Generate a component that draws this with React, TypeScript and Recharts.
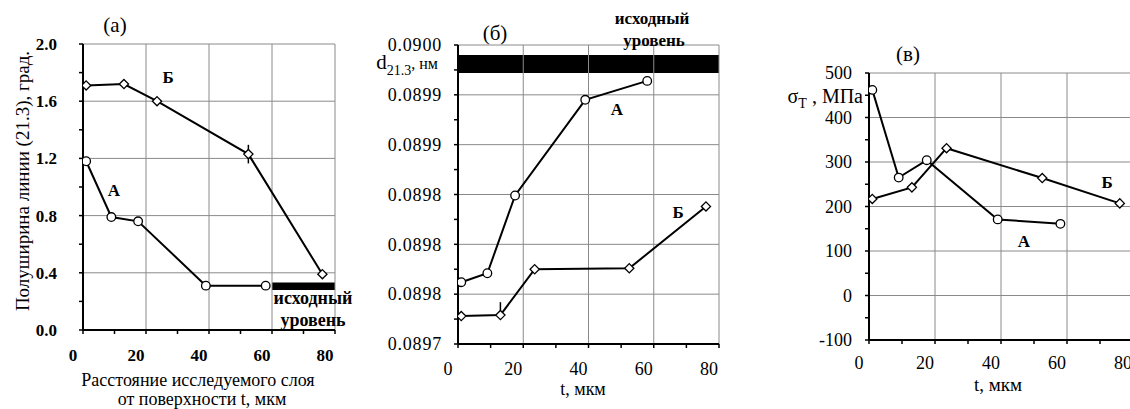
import React from "react";
import {
  LineChart, Line, XAxis, YAxis, ReferenceLine, ReferenceArea, ErrorBar,
} from "recharts";

// depth t, мкм (same specimens in all three panels)
const T_A = [1, 9, 17.5, 39, 58];
const T_B = [1, 13, 23.5, 52.5, 76];

// (а) line half-width (21.3), deg
const WIDTH_A = [1.18, 0.79, 0.76, 0.31, 0.31];
const WIDTH_B = [1.71, 1.72, 1.6, 1.23, 0.39];
const WIDTH_B_ERR = [0, 0, 0, 0.065, 0];

// (б) d21.3, nm
const D_A = [0.089762, 0.089771, 0.089849, 0.089945, 0.089964];
const D_B = [0.089728, 0.089729, 0.089775, 0.089776, 0.089838];
const D_B_ERR = [[0, 0], [0, 0.000013], [0, 0], [0, 0], [0, 0]];

// (в) sigma_T, MPa
const SIGMA_A = [462, 265, 304, 171, 161];
const SIGMA_B = [217, 243, 331, 264, 207];

const X_TICKS = [0, 10, 20, 30, 40, 50, 60, 70, 80];
const X_MAJOR = [0, 20, 40, 60, 80];

const Y_TICKS_A = [0, 0.2, 0.4, 0.6, 0.8, 1.0, 1.2, 1.4, 1.6, 1.8, 2.0];
const Y_MAJOR_A = [0, 0.4, 0.8, 1.2, 1.6, 2.0];
const Y_LABELS_A = ["0.0", "0.4", "0.8", "1.2", "1.6", "2.0"];

const Y_TICKS_B = [0.0897, 0.089725, 0.08975, 0.089775, 0.0898, 0.089825, 0.08985, 0.089875, 0.0899, 0.089925, 0.08995, 0.089975, 0.09];
const Y_MAJOR_B = [0.0897, 0.08975, 0.0898, 0.08985, 0.0899, 0.08995, 0.09];
const Y_LABELS_B = ["0.0897", "0.0898", "0.0898", "0.0898", "0.0899", "0.0899", "0.0900"];

const Y_TICKS_C = [-100, -50, 0, 50, 100, 150, 200, 250, 300, 350, 400, 450, 500];
const Y_MAJOR_C = [-100, 0, 100, 200, 300, 400, 500];
const Y_LABELS_C = ["-100", "0", "100", "200", "300", "400", "500"];

const FONT = "Liberation Serif, Times New Roman, DejaVu Serif, serif";
const GRID = "#8a8a8a";

const series = (ts: number[], vs: number[], errs?: any[]) =>
  ts.map((t, i) => ({ t, v: vs[i], err: errs ? errs[i] : 0 }));

const CircleDot = (p: any) => (
  <circle key={`c-${p.index}`} cx={p.cx} cy={p.cy} r={4.3} fill="#fff" stroke="#000" strokeWidth={1.3} />
);
const DiamondDot = (p: any) => (
  <path
    key={`d-${p.index}`}
    d={`M${p.cx},${p.cy - 4.6}L${p.cx + 4.6},${p.cy}L${p.cx},${p.cy + 4.6}L${p.cx - 4.6},${p.cy}Z`}
    fill="#fff" stroke="#000" strokeWidth={1.3}
  />
);

const xTick = (bold: boolean, size: number) => (p: any) => (
  <text x={p.x - 10} y={p.y} dy="0.35em" textAnchor="middle" style={{ fontFamily: FONT }}
    fontSize={size} fontWeight={bold ? 700 : 400} fill="#000">
    {X_MAJOR.includes(p.payload.value) ? String(p.payload.value) : ""}
  </text>
);

const yTick = (major: number[], labels: string[], bold: boolean, size: number, spacing = 0) => (p: any) => {
  const i = major.findIndex((m) => Math.abs(m - p.payload.value) < 1e-9);
  return (
    <text x={p.x} y={p.y} dy="0.35em" textAnchor="end" style={{ fontFamily: FONT }}
      fontSize={size} fontWeight={bold ? 700 : 400} letterSpacing={spacing} fill="#000">
      {i >= 0 ? labels[i] : ""}
    </text>
  );
};

interface PanelProps {
  left: number;
  width: number;
  margin: { top: number; right: number; left: number; bottom: number };
  yWidth: number;
  yGap: number;
  yDomain: [number, number];
  yTicks: number[];
  yMajor: number[];
  yLabels: string[];
  bold: boolean;
  tickSize: number;
  xGap?: number;
  spacing?: number;
  dataA: any[];
  dataB: any[];
  errB?: boolean;
  children?: React.ReactNode;
}

function Panel(p: PanelProps) {
  return (
    <div style={{ position: "absolute", left: p.left, top: 0 }}>
      <LineChart width={p.width} height={409} margin={p.margin}>
        <XAxis type="number" dataKey="t" domain={[0, 80]} ticks={X_TICKS} allowDataOverflow
          height={30} tickSize={4} tickMargin={p.xGap ?? 21}
          axisLine={{ stroke: "#000", strokeWidth: 2 }} tickLine={{ stroke: "#000", strokeWidth: 1.5 }}
          tick={xTick(p.bold, p.tickSize)} interval={0} />
        <YAxis type="number" domain={p.yDomain} ticks={p.yTicks} allowDataOverflow
          width={p.yWidth} tickSize={4} tickMargin={p.yGap - 4} interval={0}
          axisLine={{ stroke: "#000", strokeWidth: 2 }} tickLine={{ stroke: "#000", strokeWidth: 1.5 }}
          tick={yTick(p.yMajor, p.yLabels, p.bold, p.tickSize, p.spacing)} />
        {X_MAJOR.slice(1).map((x) => (
          <ReferenceLine key={`gx-${x}`} x={x} stroke={GRID} strokeWidth={1} />
        ))}
        {p.yMajor.slice(1).map((y) => (
          <ReferenceLine key={`gy-${y}`} y={y} stroke={GRID} strokeWidth={1} />
        ))}
        {p.children}
        <Line data={p.dataA} dataKey="v" stroke="#000" strokeWidth={2} dot={CircleDot}
          activeDot={false} isAnimationActive={false} />
        <Line data={p.dataB} dataKey="v" stroke="#000" strokeWidth={2} dot={DiamondDot}
          activeDot={false} isAnimationActive={false}>
          {p.errB && <ErrorBar dataKey="err" width={0} stroke="#000" strokeWidth={1.5} direction="y" />}
        </Line>
      </LineChart>
    </div>
  );
}

const Txt = (props: { x: number; y: number; size: number; bold?: boolean; rotate?: boolean; align?: "center" | "right"; children: React.ReactNode }) => (
  <div
    style={{
      position: "absolute",
      left: props.x,
      top: props.y,
      transform:
        (props.align === "right" ? "translate(-100%,-50%)" : "translate(-50%,-50%)") +
        (props.rotate ? " rotate(-90deg)" : ""),
      fontFamily: FONT,
      fontSize: props.size,
      fontWeight: props.bold ? 700 : 400,
      whiteSpace: "nowrap",
      lineHeight: 1,
      color: "#000",
    }}
  >
    {props.children}
  </div>
);

export default function App() {
  return (
    <div style={{ position: "absolute", left: 0, top: 0, width: 1130, height: 409, overflow: "hidden", background: "#fff" }}>
      <Panel left={0} width={380} margin={{ top: 44, right: 45, left: 33, bottom: 49 }}
        yWidth={50} yGap={26} yDomain={[0, 2]} yTicks={Y_TICKS_A} yMajor={Y_MAJOR_A} yLabels={Y_LABELS_A}
        bold tickSize={17} dataA={series(T_A, WIDTH_A)} dataB={series(T_B, WIDTH_B, WIDTH_B_ERR)} errB>
        <ReferenceArea x1={60} x2={80} y1={0.28} y2={0.333} fill="#000" fillOpacity={1} stroke="none" />
      </Panel>
      <Panel left={380} width={370} margin={{ top: 45, right: 31, left: 8, bottom: 35 }}
        yWidth={70} yGap={16} yDomain={[0.0897, 0.09]} yTicks={Y_TICKS_B} yMajor={Y_MAJOR_B} yLabels={Y_LABELS_B}
        bold={false} tickSize={18} spacing={0.8} dataA={series(T_A, D_A)} dataB={series(T_B, D_B, D_B_ERR)} errB>
        <ReferenceArea x1={0} x2={80} y1={0.089972} y2={0.08999} fill="#000" fillOpacity={1} stroke="none" />
      </Panel>
      <Panel left={750} width={390} margin={{ top: 73, right: 7, left: 69, bottom: 39 }}
        yWidth={50} yGap={17} xGap={19} yDomain={[-100, 500]} yTicks={Y_TICKS_C} yMajor={Y_MAJOR_C} yLabels={Y_LABELS_C}
        bold={false} tickSize={18} dataA={series(T_A, SIGMA_A)} dataB={series(T_B, SIGMA_B)} />

      {/* panel (а) */}
      <Txt x={115} y={25} size={21}>(а)</Txt>
      <Txt x={168} y={77} size={17} bold>Б</Txt>
      <Txt x={114} y={190} size={17} bold>А</Txt>
      <Txt x={313} y={298} size={18} bold>исходный</Txt>
      <Txt x={313} y={320} size={18} bold>уровень</Txt>
      <Txt x={22} y={181} size={19} rotate>Полуширина линии (21.3), град.</Txt>
      <Txt x={198} y={380} size={18}>Расстояние исследуемого слоя</Txt>
      <Txt x={202} y={399} size={18}>от поверхности t, мкм</Txt>

      {/* panel (б) */}
      <Txt x={495} y={33} size={21}>(б)</Txt>
      <Txt x={652} y={18} size={17} bold>исходный</Txt>
      <Txt x={654} y={40} size={17} bold>уровень</Txt>
      <Txt x={407} y={65} size={21}>
        d<sub style={{ fontSize: 14 }}>21.3</sub><span style={{ fontSize: 16 }}>, нм</span>
      </Txt>
      <Txt x={617} y={109} size={17} bold>А</Txt>
      <Txt x={678} y={212} size={17} bold>Б</Txt>
      <Txt x={583} y={389} size={18}>t, мкм</Txt>

      {/* panel (в) */}
      <Txt x={908} y={54} size={21}>(в)</Txt>
      <Txt x={863} y={98} size={20} align="right">
        σ<sub style={{ fontSize: 14 }}>T</sub> , МПа
      </Txt>
      <Txt x={1107} y={182} size={17} bold>Б</Txt>
      <Txt x={1024} y={241} size={17} bold>А</Txt>
      <Txt x={998} y={384} size={19}>t, мкм</Txt>
    </div>
  );
}
